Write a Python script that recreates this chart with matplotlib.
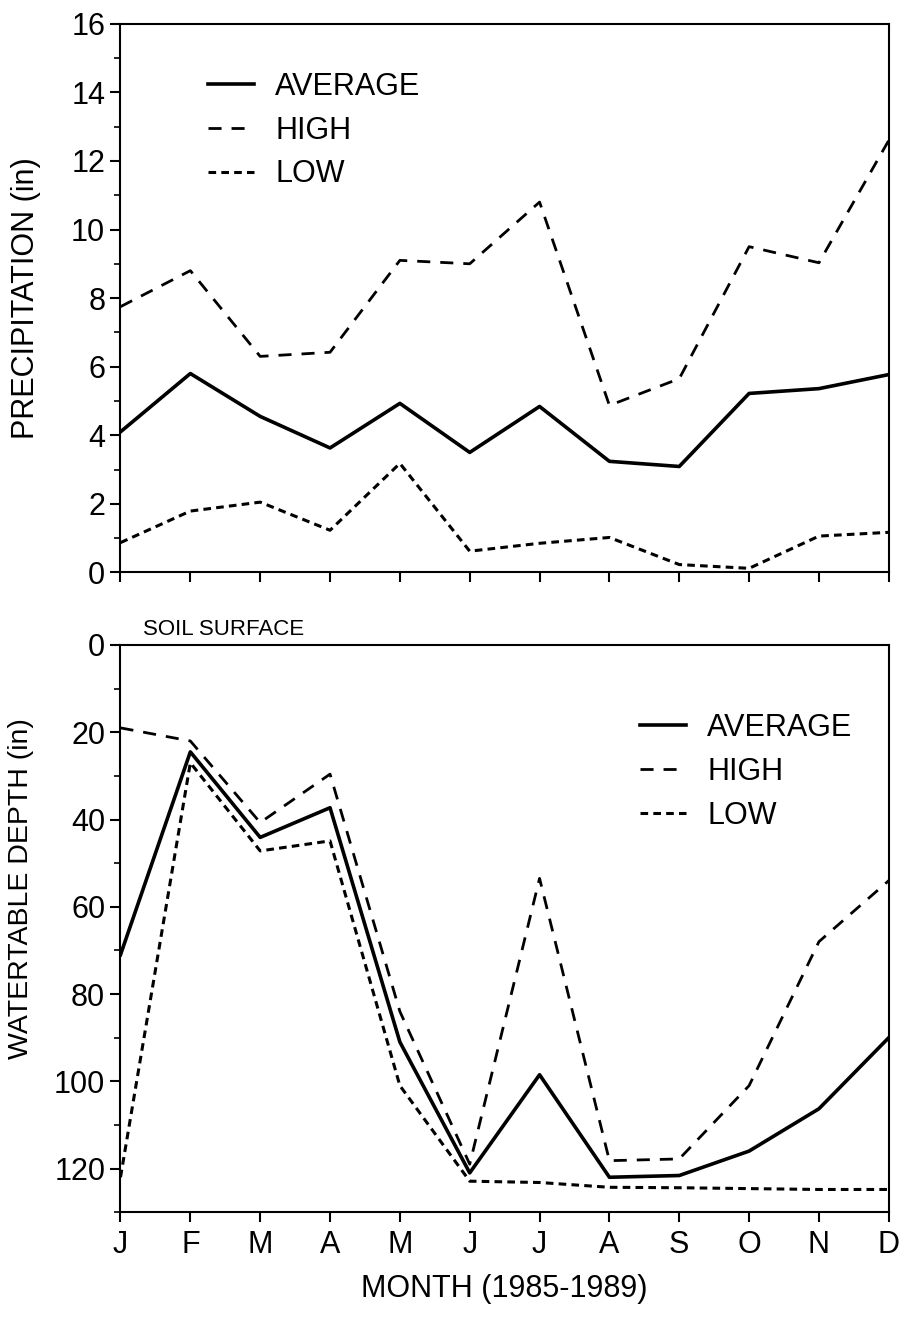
import matplotlib
matplotlib.use('Agg')
from matplotlib import pyplot as plt
from matplotlib.ticker import MultipleLocator

plt.rcParams['font.family'] = ['Liberation Sans', 'DejaVu Sans']

months = ['J', 'F', 'M', 'A', 'M', 'J', 'J', 'A', 'S', 'O', 'N', 'D']

# precipitation (in)
precip_avg = [4.1, 5.8, 4.55, 3.63, 4.93, 3.5, 4.84, 3.24, 3.09, 5.22, 5.36, 5.77]
precip_high = [7.75, 8.8, 6.3, 6.42, 9.1, 9.0, 10.8, 4.87, 5.65, 9.5, 9.03, 12.6]
precip_low = [0.87, 1.79, 2.05, 1.23, 3.18, 0.62, 0.85, 1.02, 0.23, 0.12, 1.06, 1.17]

# watertable depth (in)
depth_avg = [71, 24.5, 44.1, 37.3, 91, 121, 98.5, 122, 121.6, 116, 106.3, 90]
depth_high = [19, 22, 40.7, 29.6, 84, 119, 53.5, 118.2, 117.8, 101, 68, 54]
depth_low = [122, 27, 47.2, 44.9, 101, 122.9, 123.2, 124.3, 124.4, 124.6, 124.8, 124.8]

FS = 22
x = list(range(len(months)))

fig = plt.figure(figsize=(9.06, 13.19), dpi=100)
ax1 = fig.add_axes([0.133, 0.566, 0.848, 0.416])
ax2 = fig.add_axes([0.133, 0.081, 0.848, 0.430])

styles = {
    'AVERAGE': dict(color='black', lw=2.6, ls='-'),
    'HIGH': dict(color='black', lw=2.0, ls=(0, (4.7, 3.6))),
    'LOW': dict(color='black', lw=2.2, ls=(0, (2.5, 1.7))),
}

ax1.plot(x, precip_avg, label='AVERAGE', **styles['AVERAGE'])
ax1.plot(x, precip_high, label='HIGH', **styles['HIGH'])
ax1.plot(x, precip_low, label='LOW', **styles['LOW'])

ax2.plot(x, depth_avg, label='AVERAGE', **styles['AVERAGE'])
ax2.plot(x, depth_high, label='HIGH', **styles['HIGH'])
ax2.plot(x, depth_low, label='LOW', **styles['LOW'])

ax1.set_xlim(0, 11)
ax1.set_ylim(0, 16)
ax1.yaxis.set_major_locator(MultipleLocator(2))
ax1.yaxis.set_minor_locator(MultipleLocator(1))
ax1.set_xticks(x)
ax1.set_xticklabels([])
ax1.set_ylabel('PRECIPITATION (in)', fontsize=FS)
ax1.yaxis.set_label_coords(-0.104, 0.5)

ax2.set_xlim(0, 11)
ax2.set_ylim(130, 0)
ax2.yaxis.set_major_locator(MultipleLocator(20))
ax2.yaxis.set_minor_locator(MultipleLocator(10))
ax2.set_xticks(x)
ax2.set_xticklabels(months)
ax2.set_ylabel('WATERTABLE DEPTH (in)', fontsize=20.5)
ax2.yaxis.set_label_coords(-0.112, 0.57)
ax2.set_xlabel('MONTH (1985-1989)', fontsize=FS, labelpad=10)

for ax in (ax1, ax2):
    for s in ax.spines.values():
        s.set_linewidth(1.5)
    ax.tick_params(which='major', direction='out', length=7, width=1.5,
                   labelsize=FS, pad=4)
    ax.tick_params(which='minor', direction='out', length=4, width=1.2)
    ax.tick_params(axis='x', which='major', pad=6)
    ax.tick_params(axis='x', which='minor', bottom=False)

ax2.text(0.029, 1.008, 'SOIL SURFACE', transform=ax2.transAxes,
         fontsize=16, va='bottom', ha='left')

leg_kw = dict(frameon=False, fontsize=FS, handlelength=1.5, handletextpad=0.7,
              labelspacing=0.45, borderpad=0, borderaxespad=0, loc='upper left')
ax1.legend(bbox_to_anchor=(208 / 906, 1 - 72 / 1319),
           bbox_transform=fig.transFigure, **leg_kw)
ax2.legend(bbox_to_anchor=(640 / 906, 1 - 713 / 1319),
           bbox_transform=fig.transFigure, **leg_kw)

fig.savefig('out.png', dpi=100)
